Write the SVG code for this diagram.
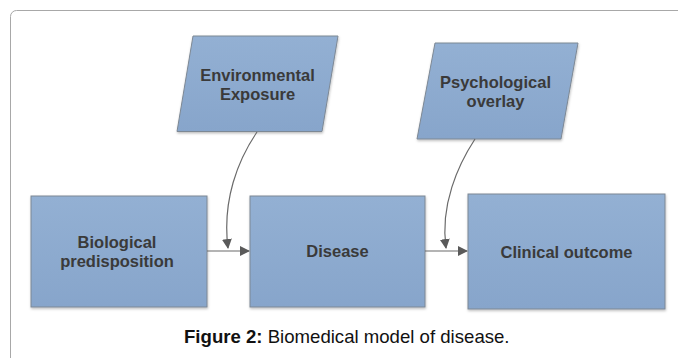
<svg xmlns="http://www.w3.org/2000/svg" width="678" height="358" viewBox="0 0 678 358">
<defs>
<linearGradient id="g" x1="0" y1="0" x2="0" y2="1">
<stop offset="0" stop-color="#93B0D3"/>
<stop offset="1" stop-color="#87A5CB"/>
</linearGradient>
<filter id="sh" x="-10%" y="-10%" width="120%" height="130%">
<feDropShadow dx="0.5" dy="1.5" stdDeviation="1" flood-color="#000" flood-opacity="0.25"/>
</filter>
<marker id="ah" viewBox="0 0 10 10" refX="9" refY="5" markerWidth="10" markerHeight="10" markerUnits="userSpaceOnUse" orient="auto">
<path d="M0,0 L10,5 L0,10 Z" fill="#5a5a5a"/>
</marker>
</defs>
<style>
.node{fill:url(#g);stroke:#7D8894;stroke-width:1;filter:url(#sh)}
.lbl{font-family:"Liberation Sans",Arial,sans-serif;font-weight:bold;font-size:16.5px;fill:#3a3a3a;text-anchor:middle}
.conn{fill:none;stroke:#6a6a6a;stroke-width:1.2}
.cap{font-family:"Liberation Sans",Arial,sans-serif;font-size:18.6px;fill:#111}
</style>
<rect x="10.5" y="10.5" width="720" height="400" rx="6" fill="#fff" stroke="#a8a8a8" stroke-width="1"/>
<g id="environmental">
<polygon class="node" points="193,36 338,36 322,131.5 177,131.5"/>
<text class="lbl" x="257.5" y="81">Environmental</text>
<text class="lbl" x="257.5" y="100">Exposure</text>
</g>
<g id="psychological">
<polygon class="node" points="435,43 578,43 561,139 417,139"/>
<text class="lbl" x="495.5" y="88">Psychological</text>
<text class="lbl" x="495.5" y="107">overlay</text>
</g>
<g id="biological">
<rect class="node" x="31" y="196" width="176" height="111"/>
<text class="lbl" x="117" y="248">Biological</text>
<text class="lbl" x="117" y="267">predisposition</text>
</g>
<g id="disease">
<rect class="node" x="250" y="196" width="175" height="111"/>
<text class="lbl" x="337.5" y="257">Disease</text>
</g>
<g id="clinical">
<rect class="node" x="468" y="194" width="197" height="115"/>
<text class="lbl" x="566.5" y="258">Clinical outcome</text>
</g>
<g id="connectors">
<path class="conn" d="M207,251 L249,251" marker-end="url(#ah)"/>
<path class="conn" d="M425,251 L467,251" marker-end="url(#ah)"/>
<path class="conn" d="M257,132 C238,160 222,200 228,248" marker-end="url(#ah)"/>
<path class="conn" d="M475,139 C458,165 440,205 446,248" marker-end="url(#ah)"/>
</g>
<text class="cap" x="184" y="343"><tspan font-weight="bold">Figure 2:</tspan> Biomedical model of disease.</text>
</svg>
